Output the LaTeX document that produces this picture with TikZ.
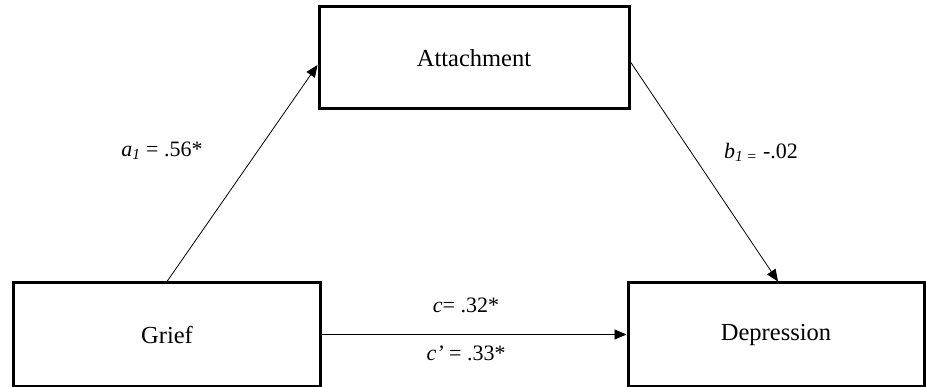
\documentclass[tikz,border=0pt]{standalone}
\usepackage{fontspec}
\setmainfont{Liberation Serif}
\usetikzlibrary{arrows.meta}
\begin{document}
\begin{tikzpicture}[x=1pt,y=-1pt,
  varbox/.style={draw=black,line width=3pt,fill=white,inner sep=0pt,font=\fontsize{24.5}{28}\selectfont},
  path/.style={line width=0.8pt,-{Triangle[length=12pt,width=10pt]}},
  lab/.style={font=\fontsize{22}{26}\selectfont,inner sep=0pt}]
\useasboundingbox (0,0) rectangle (926,387);
\node[varbox,minimum width=310pt,minimum height=102pt] (att) at (474,58) {Attachment};
\node[varbox,minimum width=307pt,minimum height=103pt] (grief) at (167,334.5) {Grief};
\node[varbox,minimum width=296pt,minimum height=103pt] (dep) at (776,334.5) {Depression};
\coordinate (attin) at ([yshift=-7pt]att.west);
\coordinate (attout) at ([yshift=-4pt]att.east);
\draw[path] (grief.north) -- (attin);
\draw[path] (attout) -- ([xshift=2pt]dep.north);
\draw[path] (grief.east) -- (dep.west);
\node[lab] (la) at (162,151) {\textit{a\textsubscript{1}} = .56*};
\node[lab] (lb) at (761,152) {\textit{b\textsubscript{1 =}} -.02};
\node[lab] (lc) at (466,305) {\textit{c}= .32*};
\node[lab] (lcp) at (466,353) {\textit{c’} = .33*};
\end{tikzpicture}
\end{document}
